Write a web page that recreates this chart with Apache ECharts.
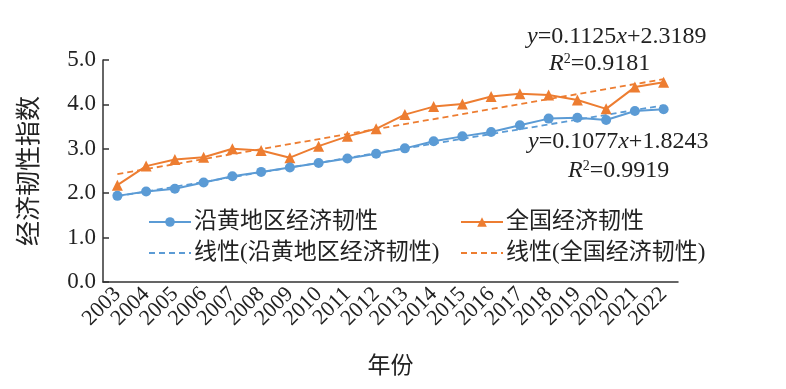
<!DOCTYPE html>
<html>
<head>
<meta charset="utf-8">
<script src="https://cdn.jsdelivr.net/npm/echarts@6/dist/echarts.min.js"></script>
<style>html,body{margin:0;padding:0;background:#fff;}#c{width:786px;height:389px;}</style>
</head>
<body>
<div id="c"></div>
<script>
var years = ['2003','2004','2005','2006','2007','2008','2009','2010','2011','2012','2013','2014','2015','2016','2017','2018','2019','2020','2021','2022'];
var yellowRiver = [1.94,2.04,2.10,2.24,2.38,2.48,2.58,2.68,2.78,2.89,3.01,3.17,3.28,3.38,3.53,3.68,3.70,3.65,3.85,3.89];
var national = [2.18,2.61,2.76,2.81,3.00,2.96,2.80,3.06,3.28,3.45,3.77,3.95,4.01,4.18,4.24,4.21,4.10,3.90,4.39,4.50];
var trendYellowEnds = [1.93, 3.98];
var trendNationalEnds = [2.43, 4.57];
var yTicks = [0, 1, 2, 3, 4, 5];
var names = ['沿黄地区经济韧性','全国经济韧性','线性(沿黄地区经济韧性)','线性(全国经济韧性)'];

var FONT = "'Times New Roman','Liberation Serif','Noto Sans CJK SC',serif";
var blue = '#5B9BD5', orange = '#ED7D31';
var chart = echarts.init(document.getElementById('c'), null, {renderer:'canvas'});
var ends = function(e){ return [[years[0], e[0]], [years[years.length-1], e[1]]]; };
var legText = {fontFamily:FONT, fontSize:23, color:'#222', lineHeight:24, padding:[0,0,0,-2]};
chart.setOption({
  animation:false,
  backgroundColor:'#fff',
  textStyle:{fontFamily:FONT, color:'#222'},
  grid:{left:103, right:108, top:60, bottom:107, containLabel:false},
  legend:[{
    data:[names[0], {name:names[2], itemStyle:{opacity:0}}], orient:'vertical', left:143, top:205,
    itemWidth:42, itemHeight:12, itemGap:7, textStyle:legText
  },{
    data:[names[1], {name:names[3], itemStyle:{opacity:0}}], orient:'vertical', left:455, top:205,
    itemWidth:42, itemHeight:12, itemGap:7, textStyle:legText
  }],
  xAxis:{
    type:'category', data:years, boundaryGap:true,
    name:'年份', nameLocation:'middle', nameGap:73,
    nameTextStyle:{fontFamily:FONT, fontSize:23, color:'#222'},
    axisLine:{lineStyle:{color:'#333', width:1.5}},
    axisTick:{inside:true, length:6, lineStyle:{color:'#333', width:1.5}},
    axisLabel:{rotate:45, fontSize:22, color:'#222', margin:9, interval:0, fontFamily:FONT},
    splitLine:{show:false}
  },
  yAxis:{
    type:'value', min:yTicks[0], max:yTicks[yTicks.length-1], interval:1,
    name:'经济韧性指数', nameLocation:'middle', nameGap:60, nameRotate:90,
    nameTextStyle:{fontFamily:FONT, fontSize:25, color:'#222'},
    axisLine:{show:true, lineStyle:{color:'#333', width:1.5}},
    axisTick:{show:true, inside:true, length:6, lineStyle:{color:'#333', width:1.5}},
    axisLabel:{fontSize:23, color:'#222', margin:7, fontFamily:FONT, formatter:function(v){return v.toFixed(1);}},
    splitLine:{show:false}
  },
  series:[
    {name:names[0], type:'line', data:yellowRiver, symbol:'circle', symbolSize:10,
     itemStyle:{color:blue}, lineStyle:{color:blue, width:2}, z:4},
    {name:names[1], type:'line', data:national, symbol:'triangle', symbolSize:11,
     itemStyle:{color:orange}, lineStyle:{color:orange, width:2}, z:3},
    {name:names[2], type:'line', data:ends(trendYellowEnds), symbol:'none',
     itemStyle:{color:blue}, lineStyle:{color:blue, width:1.8, type:[6,4]}, z:2},
    {name:names[3], type:'line', data:ends(trendNationalEnds), symbol:'none',
     itemStyle:{color:orange}, lineStyle:{color:orange, width:1.8, type:[6,4]}, z:2}
  ],
  graphic:[
    {type:'text', left:527, top:25, style:{rich:{
      i:{fontFamily:FONT, fontStyle:'italic', fontSize:24, fill:'#222'},
      n:{fontFamily:FONT, fontSize:24, fill:'#222'}},
      text:'{i|y}{n|=0.1125}{i|x}{n|+2.3189}'}},
    {type:'text', left:549, top:52, style:{rich:{
      i:{fontFamily:FONT, fontStyle:'italic', fontSize:24, fill:'#222'},
      s:{fontFamily:FONT, fontSize:14, fill:'#222', verticalAlign:'top', padding:[0,0,10,0]},
      n:{fontFamily:FONT, fontSize:24, fill:'#222'}},
      text:'{i|R}{s|2}{n|=0.9181}'}},
    {type:'text', left:528, top:130, style:{rich:{
      i:{fontFamily:FONT, fontStyle:'italic', fontSize:24, fill:'#222'},
      n:{fontFamily:FONT, fontSize:24, fill:'#222'}},
      text:'{i|y}{n|=0.1077}{i|x}{n|+1.8243}'}},
    {type:'text', left:568, top:159, style:{rich:{
      i:{fontFamily:FONT, fontStyle:'italic', fontSize:24, fill:'#222'},
      s:{fontFamily:FONT, fontSize:14, fill:'#222', verticalAlign:'top', padding:[0,0,10,0]},
      n:{fontFamily:FONT, fontSize:24, fill:'#222'}},
      text:'{i|R}{s|2}{n|=0.9919}'}}
  ]
});
</script>
</body>
</html>
